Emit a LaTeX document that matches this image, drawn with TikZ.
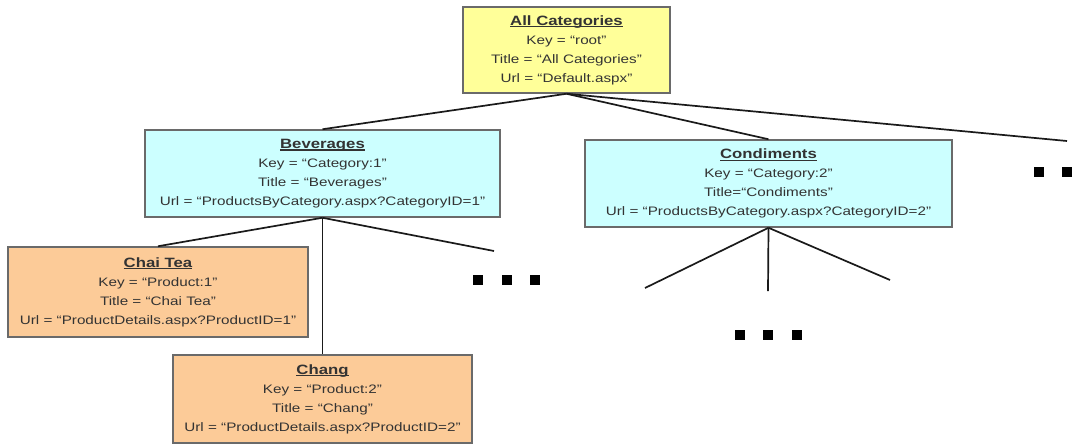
\documentclass[tikz,border=0pt]{standalone}
\usepackage{fontspec}
\setmainfont{Liberation Sans}[FakeStretch=1.24]
\definecolor{rootfill}{HTML}{FFFF99}
\definecolor{catfill}{HTML}{CCFFFF}
\definecolor{prodfill}{HTML}{FCCB98}
\definecolor{boxline}{HTML}{6A6A6A}
\definecolor{txt}{HTML}{333333}
\definecolor{conn}{HTML}{1A1A1A}
\newcommand{\ttl}[1]{\setbox0\hbox{\fontsize{13.5}{19}\selectfont\bfseries #1}\copy0\llap{\rule[-2.2pt]{\wd0}{1.1pt}}}
\begin{document}
\begin{tikzpicture}[x=1pt,y=-1pt,
  box/.style={draw=boxline, line width=1.5pt, inner sep=0pt, align=center,
    text=txt, font=\fontsize{12.3}{19}\selectfont},
  rootbox/.style={box, fill=rootfill},
  catbox/.style={box, fill=catfill},
  prodbox/.style={box, fill=prodfill},
  link/.style={draw=conn, line width=1.7pt},
  sq/.style={fill=black, inner sep=0pt, minimum size=10pt}]
\clip (0,0) rectangle (1089,445);
\fill[white] (0,0) rectangle (1089,445);

\node[rootbox, minimum width=207pt, minimum height=86pt] (root) at (566.5,50)
  {\ttl{All Categories}\\Key = “root”\\Title = “All Categories”\\Url = “Default.aspx”};
\node[catbox, minimum width=355pt, minimum height=87pt] (bev) at (322.5,173.5)
  {\ttl{Beverages}\\Key = “Category:1”\\Title = “Beverages”\\Url = “ProductsByCategory.aspx?CategoryID=1”};
\node[catbox, minimum width=367pt, minimum height=87pt] (cond) at (768.5,183.5)
  {\ttl{Condiments}\\Key = “Category:2”\\Title=“Condiments”\\Url = “ProductsByCategory.aspx?CategoryID=2”};
\node[prodbox, minimum width=300pt, minimum height=90pt] (chai) at (158,292)
  {\ttl{Chai Tea}\\Key = “Product:1”\\Title = “Chai Tea”\\Url = “ProductDetails.aspx?ProductID=1”};
\node[prodbox, minimum width=299pt, minimum height=88pt] (chang) at (322.5,399)
  {\ttl{Chang}\\Key = “Product:2”\\Title = “Chang”\\Url = “ProductDetails.aspx?ProductID=2”};

\coordinate (rootmore) at (1067,141);
\coordinate (bevmore) at (494,251);
\coordinate (condl) at (645,288);
\coordinate (condm) at (768,291);
\coordinate (condr) at (890,280);

\draw[link] (root.south) -- (bev.north);
\draw[link] (root.south) -- (cond.north);
\draw[link] (root.south) -- (rootmore);
\draw[link] (bev.south) -- (chai.north);
\draw[link] (bev.south) -- (chang.north);
\draw[link] (bev.south) -- (bevmore);
\draw[link] (cond.south) -- (condl);
\draw[link] (cond.south) -- (condm);
\draw[link] (cond.south) -- (condr);

\node[sq] (b1) at (478,280) {};
\node[sq] (b2) at (507,280) {};
\node[sq] (b3) at (535,280) {};
\node[sq] (c1) at (740,335) {};
\node[sq] (c2) at (768,335) {};
\node[sq] (c3) at (797,335) {};
\node[sq] (r1) at (1039,172) {};
\node[sq] (r2) at (1067,172) {};
\node[sq] (r3) at (1094,172) {};
\end{tikzpicture}
\end{document}
